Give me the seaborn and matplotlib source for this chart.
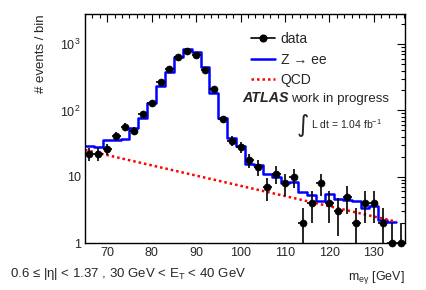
import numpy as np
import matplotlib
matplotlib.use("Agg")
import matplotlib.pyplot as plt
import seaborn as sns
from matplotlib.lines import Line2D
from matplotlib.ticker import MultipleLocator, LogLocator, FuncFormatter, NullFormatter

# data points (bin centres, counts per 2 GeV bin)
data_mass = [66, 68, 70, 72, 74, 76, 78, 80, 82, 84, 86, 88, 90, 92, 94, 96, 98, 100,
             102, 104, 106, 108, 110, 112, 114, 116, 118, 120, 122, 124, 126, 128, 130, 132, 134, 136]
data_counts = [22, 22, 26, 41, 57, 49, 89, 128, 265, 421, 639, 795, 685, 403, 212, 74, 35, 28,
               18, 14, 7, 11, 8, 10, 2, 4, 8, 4, 3, 5, 2, 4, 4, 2, 1, 1]

# Z -> ee simulation, 2 GeV bins from 65 to 135
mc_edges = [65, 67, 69, 71, 73, 75, 77, 79, 81, 83, 85, 87, 89, 91, 93, 95, 97, 99, 101,
            103, 105, 107, 109, 111, 113, 115, 117, 119, 121, 123, 125, 127, 129, 131, 133, 135]
mc_counts = [29, 28, 36, 36, 37, 55, 76, 131, 233, 384, 631, 834, 768, 456, 181, 76, 39, 29, 15.5,
             15, 11, 10, 8.1, 8.4, 5.9, 5.3, 4.3, 5.5, 4.6, 4.4, 4.3, 3.4, 3.6, 2.2, 2.1]

# QCD background (exponential, straight on log axis)
qcd_mass = [65, 135]
qcd_counts = [25.3, 2.1]

bin_half = 1.0

sns.set_style("white")
plt.rcParams["font.family"] = ["Liberation Sans", "DejaVu Sans"]
plt.rcParams["mathtext.fontset"] = "custom"
plt.rcParams["mathtext.rm"] = "Liberation Sans"
plt.rcParams["mathtext.it"] = "Liberation Sans:italic"
plt.rcParams["mathtext.bf"] = "Liberation Sans:bold"

fig = plt.figure(figsize=(4.27, 2.90), dpi=100)
ax = fig.add_axes([85 / 427, 47 / 290, 320 / 427, 229 / 290])

mc_centres = [(a + b) / 2 for a, b in zip(mc_edges[:-1], mc_edges[1:])]
sns.histplot(x=mc_centres, weights=mc_counts, bins=mc_edges, element="step", fill=False,
             color="blue", linewidth=1.8, ax=ax)
sns.lineplot(x=qcd_mass, y=qcd_counts, color="red", linestyle=(0, (1, 1.2)), linewidth=1.8, ax=ax)

counts = np.array(data_counts, dtype=float)
err = np.sqrt(counts)
lo = np.minimum(err, counts * 0.999)
ax.errorbar(data_mass, data_counts, yerr=[lo, err], xerr=bin_half, fmt="none",
            ecolor="black", elinewidth=1.2, capsize=0, zorder=4)
sns.scatterplot(x=data_mass, y=data_counts, color="black", s=26, edgecolor="black",
                zorder=5, clip_on=False, ax=ax)

ax.set_yscale("log")
ax.set_xlim(65, 137)
ax.set_ylim(1, 2850)

ax.xaxis.set_major_locator(MultipleLocator(10))
ax.xaxis.set_minor_locator(MultipleLocator(10 / 6))
ax.yaxis.set_major_locator(LogLocator(base=10, numticks=10))
ax.yaxis.set_minor_locator(LogLocator(base=10, subs=np.arange(2, 10), numticks=20))
ax.yaxis.set_minor_formatter(NullFormatter())


def ylab(v, pos):
    if v < 5:
        return "1"
    if v < 50:
        return "10"
    return "$10^{%d}$" % round(np.log10(v))


ax.yaxis.set_major_formatter(FuncFormatter(ylab))
ax.tick_params(which="both", direction="in", top=True, right=True, labelsize=9, pad=3,
               color="black", width=0.8)
ax.tick_params(which="major", length=6)
ax.tick_params(which="minor", length=3.2)
for s in ax.spines.values():
    s.set_color("black")
    s.set_linewidth(1.0)

ax.set_ylabel("# events / bin", fontsize=9.5, loc="top")
ax.yaxis.set_label_coords(-0.12, 1.0)
ax.set_xlabel(r"m$_{\rm e\gamma}$ [GeV]", fontsize=9, loc="right")
ax.xaxis.label.set_va("baseline")
ax.xaxis.set_label_coords(1.0, -0.159)

fig.text(10 / 427, 0.046, r"0.6 ≤ |η| < 1.37 , 30 GeV < E$_{\rm T}$ < 40 GeV", fontsize=9.5,
         va="baseline", ha="left")

handles = [Line2D([], [], color="black", marker="o", markersize=4.8, linewidth=1.2),
           Line2D([], [], color="blue", linewidth=1.8),
           Line2D([], [], color="red", linestyle=(0, (1, 1.2)), linewidth=1.8)]
ax.legend(handles, ["data", "Z → ee", "QCD"], loc="upper left",
          bbox_to_anchor=(0.518, 0.92), frameon=False, fontsize=10, handlelength=1.75,
          handletextpad=0.4, labelspacing=0.45, borderpad=0, borderaxespad=0)

ax.text(0.49, 0.615, "ATLAS", transform=ax.transAxes, fontsize=10.3, fontweight="bold",
        fontstyle="italic", va="baseline", ha="left")
ax.text(0.643, 0.615, "work in progress", transform=ax.transAxes, fontsize=9.6,
        va="baseline", ha="left")
ax.text(0.662, 0.515, "∫", transform=ax.transAxes, fontsize=17, family="DejaVu Sans",
        va="center", ha="left")
ax.text(0.706, 0.52, r"L dt = 1.04 fb$^{-1}$", transform=ax.transAxes, fontsize=7.5,
        va="center", ha="left")

fig.savefig("out.png", dpi=100)
